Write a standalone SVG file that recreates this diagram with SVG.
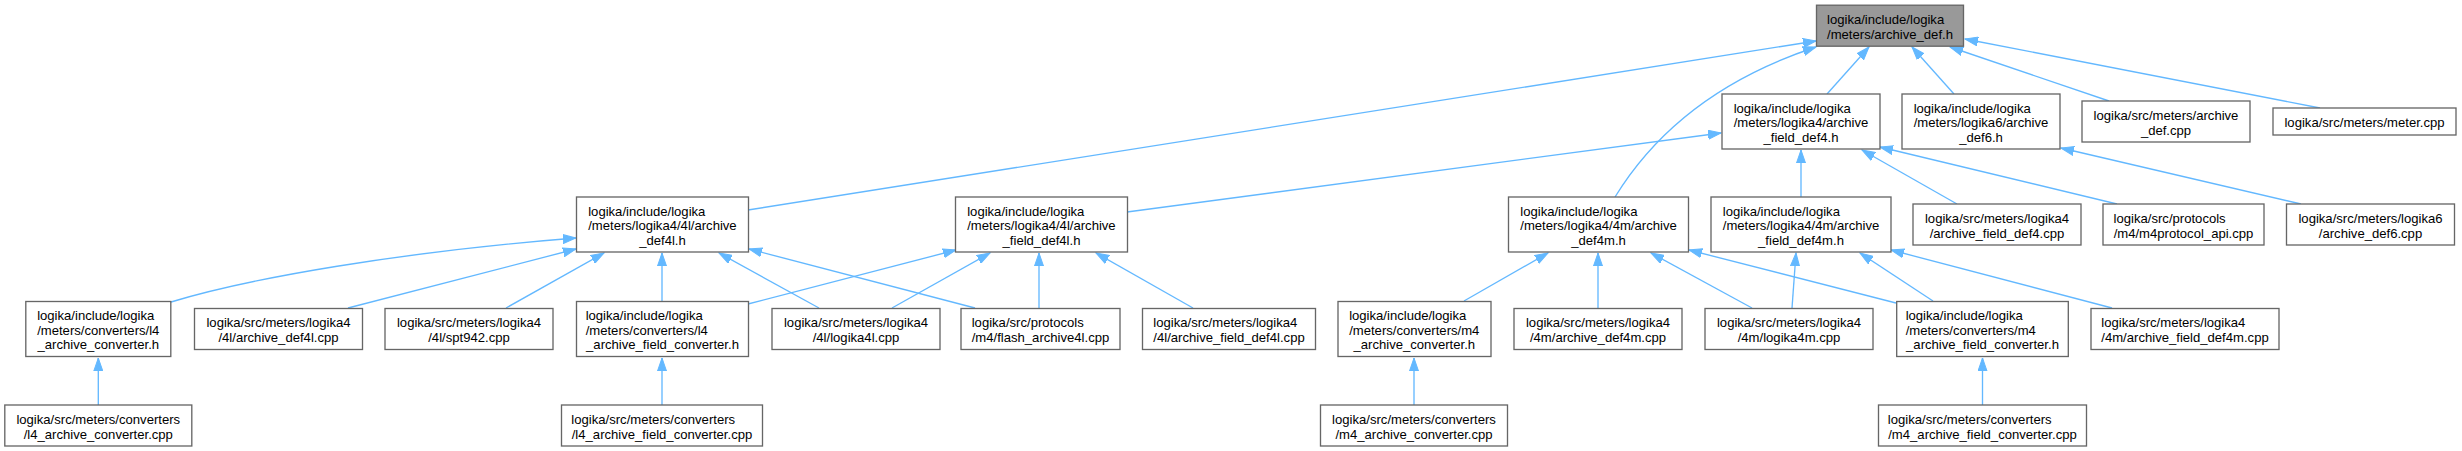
<svg xmlns="http://www.w3.org/2000/svg" width="2462" height="451" viewBox="0 0 2462 451">
<style>
.n rect{fill:#ffffff;stroke:#666666;stroke-width:1.33}
.n.root rect{fill:#999999}
.n text{font-family:"Liberation Sans",Arial,Helvetica,sans-serif;font-size:13.1px;fill:#000000}
.c{text-anchor:middle}
.e path{fill:none;stroke:#63b8ff;stroke-width:1.33;marker-end:url(#ah)}
</style>
<defs>
<marker id="ah" markerWidth="14" markerHeight="10" refX="13" refY="5" orient="auto" markerUnits="userSpaceOnUse">
<path d="M0,0.5 L13,5 L0,9.5 z" fill="#63b8ff" stroke="#63b8ff" stroke-width="1"/>
</marker>
</defs>
<rect x="0" y="0" width="2462" height="451" fill="#ffffff"/>
<g class="e" id="connectors">
<path d="M1827,94 L1869,47"/>
<path d="M1954,94 L1912,47"/>
<path d="M2109,101 L1950,47"/>
<path d="M2320,108 L1965,39"/>
<path d="M748,210 L1816,41"/>
<path d="M1615,197 C1650,140 1710,82 1816,47"/>
<path d="M1127,212 L1721,133"/>
<path d="M1801,197 L1801,150"/>
<path d="M1957,204 L1862,150"/>
<path d="M2117,204 L1880,147"/>
<path d="M2301,204 L2061,148"/>
<path d="M171,302 C250,278 400,252 576,238"/>
<path d="M348,308 L576,249"/>
<path d="M506,308 L604,253"/>
<path d="M662,301 L662,253"/>
<path d="M819,308 L719,253"/>
<path d="M975,308 L749,249"/>
<path d="M748,304 L956,250"/>
<path d="M892,308 L990,253"/>
<path d="M1039,308 L1039,253"/>
<path d="M1193,308 L1096,253"/>
<path d="M1464,301 L1548,253"/>
<path d="M1598,308 L1598,253"/>
<path d="M1752,308 L1651,253"/>
<path d="M1896,303 L1689,250"/>
<path d="M1792,308 L1796,253"/>
<path d="M1933,301 L1860,253"/>
<path d="M2112,308 L1891,250"/>
<path d="M98.3,405 L98.3,358"/>
<path d="M662,405 L662,358"/>
<path d="M1414,405 L1414,358"/>
<path d="M1982.5,405 L1982.5,358"/>
</g>
<g class="n root" id="root"><rect x="1816.5" y="5.2" width="147" height="41"/><text x="1827" y="24.07">logika/include/logika</text><text class="c" x="1890" y="38.74">/meters/archive_def.h</text></g>
<g class="n" id="fd4h"><rect x="1722" y="94" width="158" height="55"/><text x="1733.65" y="112.53">logika/include/logika</text><text x="1733.65" y="127.2">/meters/logika4/archive</text><text class="c" x="1801" y="141.87">_field_def4.h</text></g>
<g class="n" id="d6h"><rect x="1902" y="94" width="158" height="55"/><text x="1913.65" y="112.53">logika/include/logika</text><text x="1913.65" y="127.2">/meters/logika6/archive</text><text class="c" x="1981" y="141.87">_def6.h</text></g>
<g class="n" id="adcpp"><rect x="2082" y="101" width="168" height="41"/><text x="2093.6" y="119.87">logika/src/meters/archive</text><text class="c" x="2166" y="134.54">_def.cpp</text></g>
<g class="n" id="meter"><rect x="2273" y="108" width="183" height="27"/><text class="c" x="2364.5" y="127.2">logika/src/meters/meter.cpp</text></g>
<g class="n" id="d4lh"><rect x="576.5" y="197" width="172" height="55"/><text x="588.2" y="215.53">logika/include/logika</text><text x="588.2" y="230.2">/meters/logika4/4l/archive</text><text class="c" x="662.5" y="244.87">_def4l.h</text></g>
<g class="n" id="fd4lh"><rect x="955.5" y="197" width="172" height="55"/><text x="967.2" y="215.53">logika/include/logika</text><text x="967.2" y="230.2">/meters/logika4/4l/archive</text><text class="c" x="1041.5" y="244.87">_field_def4l.h</text></g>
<g class="n" id="d4mh"><rect x="1508.5" y="197" width="180" height="55"/><text x="1520.25" y="215.53">logika/include/logika</text><text x="1520.25" y="230.2">/meters/logika4/4m/archive</text><text class="c" x="1598.5" y="244.87">_def4m.h</text></g>
<g class="n" id="fd4mh"><rect x="1711" y="197" width="180" height="55"/><text x="1722.75" y="215.53">logika/include/logika</text><text x="1722.75" y="230.2">/meters/logika4/4m/archive</text><text class="c" x="1801" y="244.87">_field_def4m.h</text></g>
<g class="n" id="afd4cpp"><rect x="1913" y="204" width="168" height="41"/><text x="1924.95" y="222.87">logika/src/meters/logika4</text><text class="c" x="1997" y="237.54">/archive_field_def4.cpp</text></g>
<g class="n" id="m4api"><rect x="2103" y="204" width="161" height="41"/><text x="2113.6" y="222.87">logika/src/protocols</text><text class="c" x="2183.5" y="237.54">/m4/m4protocol_api.cpp</text></g>
<g class="n" id="ad6cpp"><rect x="2286.5" y="204" width="168" height="41"/><text x="2298.45" y="222.87">logika/src/meters/logika6</text><text class="c" x="2370.5" y="237.54">/archive_def6.cpp</text></g>
<g class="n" id="l4ch"><rect x="25.8" y="301.5" width="145" height="55"/><text x="37.15" y="320.03">logika/include/logika</text><text x="37.15" y="334.7">/meters/converters/l4</text><text class="c" x="98.3" y="349.37">_archive_converter.h</text></g>
<g class="n" id="ad4lcpp"><rect x="194.5" y="308.5" width="168" height="41"/><text x="206.45" y="327.37">logika/src/meters/logika4</text><text class="c" x="278.5" y="342.04">/4l/archive_def4l.cpp</text></g>
<g class="n" id="spt"><rect x="385" y="308.5" width="168" height="41"/><text x="396.95" y="327.37">logika/src/meters/logika4</text><text class="c" x="469" y="342.04">/4l/spt942.cpp</text></g>
<g class="n" id="l4fch"><rect x="576.5" y="301.5" width="172" height="55"/><text x="585.65" y="320.03">logika/include/logika</text><text x="585.65" y="334.7">/meters/converters/l4</text><text class="c" x="662.5" y="349.37">_archive_field_converter.h</text></g>
<g class="n" id="logika4l"><rect x="772" y="308.5" width="168" height="41"/><text x="783.95" y="327.37">logika/src/meters/logika4</text><text class="c" x="856" y="342.04">/4l/logika4l.cpp</text></g>
<g class="n" id="flash"><rect x="961" y="308.5" width="159" height="41"/><text x="971.7" y="327.37">logika/src/protocols</text><text class="c" x="1040.5" y="342.04">/m4/flash_archive4l.cpp</text></g>
<g class="n" id="afd4lcpp"><rect x="1142.5" y="308.5" width="173" height="41"/><text x="1153.3" y="327.37">logika/src/meters/logika4</text><text class="c" x="1229" y="342.04">/4l/archive_field_def4l.cpp</text></g>
<g class="n" id="m4ch"><rect x="1338" y="301.5" width="153" height="55"/><text x="1349.15" y="320.03">logika/include/logika</text><text x="1349.15" y="334.7">/meters/converters/m4</text><text class="c" x="1414.3" y="349.37">_archive_converter.h</text></g>
<g class="n" id="ad4mcpp"><rect x="1514" y="308.5" width="168" height="41"/><text x="1525.95" y="327.37">logika/src/meters/logika4</text><text class="c" x="1598" y="342.04">/4m/archive_def4m.cpp</text></g>
<g class="n" id="logika4m"><rect x="1705" y="308.5" width="168" height="41"/><text x="1716.95" y="327.37">logika/src/meters/logika4</text><text class="c" x="1789" y="342.04">/4m/logika4m.cpp</text></g>
<g class="n" id="m4fch"><rect x="1896.7" y="301.5" width="171.6" height="55"/><text x="1905.65" y="320.03">logika/include/logika</text><text x="1905.65" y="334.7">/meters/converters/m4</text><text class="c" x="1982.5" y="349.37">_archive_field_converter.h</text></g>
<g class="n" id="afd4mcpp"><rect x="2091" y="308.5" width="188" height="41"/><text x="2101.3" y="327.37">logika/src/meters/logika4</text><text class="c" x="2185" y="342.04">/4m/archive_field_def4m.cpp</text></g>
<g class="n" id="l4ccpp"><rect x="4.8" y="405" width="187" height="41"/><text x="16.4" y="423.87">logika/src/meters/converters</text><text class="c" x="98.3" y="438.54">/l4_archive_converter.cpp</text></g>
<g class="n" id="l4fccpp"><rect x="561.5" y="405" width="201" height="41"/><text x="571.35" y="423.87">logika/src/meters/converters</text><text class="c" x="662" y="438.54">/l4_archive_field_converter.cpp</text></g>
<g class="n" id="m4ccpp"><rect x="1320.5" y="405" width="187" height="41"/><text x="1332.1" y="423.87">logika/src/meters/converters</text><text class="c" x="1414" y="438.54">/m4_archive_converter.cpp</text></g>
<g class="n" id="m4fccpp"><rect x="1878.5" y="405" width="208" height="41"/><text x="1887.85" y="423.87">logika/src/meters/converters</text><text class="c" x="1982.5" y="438.54">/m4_archive_field_converter.cpp</text></g>
</svg>
